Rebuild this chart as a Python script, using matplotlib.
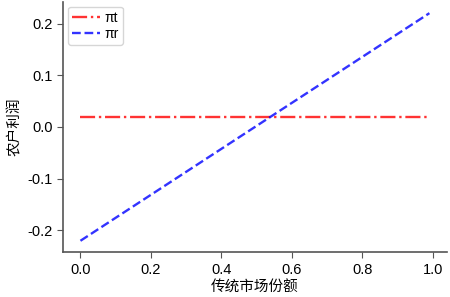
import matplotlib.pyplot as plt

plt.rcParams['font.family'] = ['Liberation Sans', 'Noto Sans CJK SC', 'DejaVu Sans']
plt.rcParams['axes.unicode_minus'] = False

# 传统市场份额 (x) 与农户利润
share = [0.0, 0.99]
pi_t = [0.02, 0.02]
pi_r = [-0.22, 0.22]

fig = plt.figure(figsize=(4.5, 2.97), dpi=100)
ax = fig.add_axes([0.14, 0.151, 0.853, 0.843])

ax.plot(share, pi_t, color='red', ls='-.', lw=1.7, alpha=0.8, label='πt')
ax.plot(share, pi_r, color='blue', ls='--', lw=1.7, alpha=0.8, label='πr')

ax.set_xticks([0.0, 0.2, 0.4, 0.6, 0.8, 1.0])
ax.set_yticks([-0.2, -0.1, 0.0, 0.1, 0.2])
ax.set_xlabel('传统市场份额', fontsize=10.5, family=['Noto Sans CJK SC'], labelpad=3)
ax.set_ylabel('农户利润', fontsize=10.5, family=['Noto Sans CJK SC'])
ax.tick_params(labelsize=10.5, colors='#555555', labelcolor='black', length=4)

for side in ['top', 'right']:
    ax.spines[side].set_visible(False)
for side in ['left', 'bottom']:
    ax.spines[side].set_color('#555555')
    ax.spines[side].set_linewidth(1.2)

ax.legend(loc='upper left', fontsize=10, handlelength=2.0, borderpad=0.3,
          labelspacing=0.15, handletextpad=0.3, borderaxespad=0.35)

fig.savefig('out.png', dpi=100)
